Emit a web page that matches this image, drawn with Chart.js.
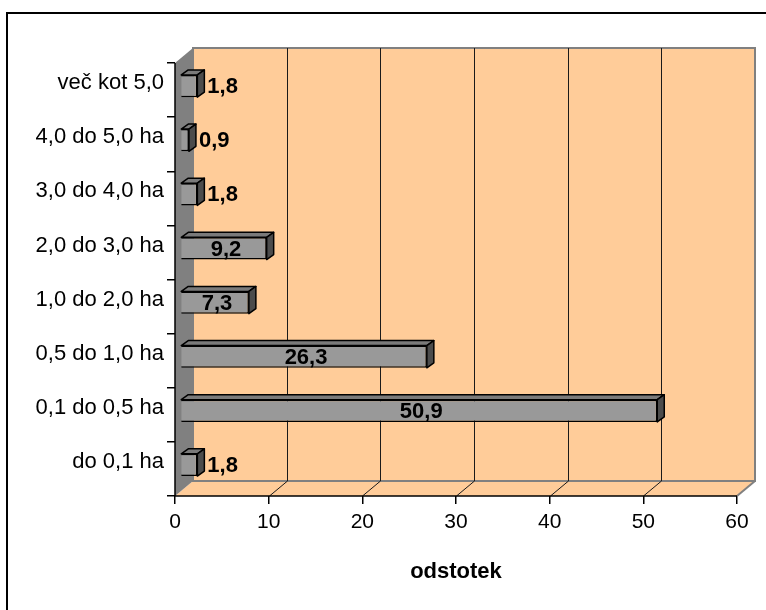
<!DOCTYPE html>
<html>
<head>
<meta charset="utf-8">
<script src="https://cdn.jsdelivr.net/npm/chart.js@4/dist/chart.umd.min.js"></script>
<style>
  html, body { margin: 0; padding: 0; background: #fff; }
  #wrap { position: relative; width: 766px; height: 610px; }
</style>
</head>
<body>
<div id="wrap"><canvas id="c" width="766" height="610"></canvas></div>
<script>
// Share of holdings by size class (percent)
const categories = ['več kot 5,0', '4,0 do 5,0 ha', '3,0 do 4,0 ha', '2,0 do 3,0 ha',
                    '1,0 do 2,0 ha', '0,5 do 1,0 ha', '0,1 do 0,5 ha', 'do 0,1 ha'];
const shares = [1.8, 0.9, 1.8, 9.2, 7.3, 26.3, 50.9, 1.8];
const xTicks = [0, 10, 20, 30, 40, 50, 60];
const axisTitle = 'odstotek';

const FONT = "'Liberation Sans', Arial, sans-serif";
const WALL = '#FFCC99';
const GREY = '#808080';
// depth of the plot box and of each bar
const DX = 18, DY = -15;
const BAR_SHIFT_X = 5.5, BAR_SHIFT_Y = -4;
const BDX = 7, BDY = -5;

const box3d = {
  id: 'box3d',
  beforeDatasetsDraw(chart) {
    const { ctx, chartArea: a, scales: { x } } = chart;
    ctx.save();
    // floor
    ctx.fillStyle = WALL;
    ctx.beginPath();
    ctx.moveTo(a.left, a.bottom);
    ctx.lineTo(a.left + DX, a.bottom + DY);
    ctx.lineTo(a.right + DX, a.bottom + DY);
    ctx.lineTo(a.right, a.bottom);
    ctx.closePath();
    ctx.fill();
    ctx.strokeStyle = GREY; ctx.lineWidth = 2;
    ctx.beginPath();
    ctx.moveTo(a.right + DX, a.bottom + DY);
    ctx.lineTo(a.right, a.bottom);
    ctx.stroke();
    // back wall
    ctx.fillStyle = WALL;
    ctx.fillRect(a.left + DX, a.top + DY, a.right - a.left, a.bottom - a.top);
    ctx.strokeStyle = GREY; ctx.lineWidth = 2;
    ctx.strokeRect(a.left + DX, a.top + DY, a.right - a.left, a.bottom - a.top);
    // grid lines on wall and floor
    ctx.strokeStyle = '#1a1a1a'; ctx.lineWidth = 1;
    xTicks.forEach(v => {
      if (v === xTicks[0] || v === xTicks[xTicks.length - 1]) return;
      const px = Math.round(x.getPixelForValue(v)) + 0.5;
      ctx.beginPath();
      ctx.moveTo(px + DX, a.top + DY);
      ctx.lineTo(px + DX, a.bottom + DY);
      ctx.lineTo(px, a.bottom);
      ctx.stroke();
    });
    // side wall
    ctx.fillStyle = GREY;
    ctx.beginPath();
    ctx.moveTo(a.left, a.top);
    ctx.lineTo(a.left + DX, a.top + DY);
    ctx.lineTo(a.left + DX, a.bottom + DY);
    ctx.lineTo(a.left, a.bottom);
    ctx.closePath();
    ctx.fill();
    // front axis lines
    ctx.strokeStyle = '#000'; ctx.lineWidth = 1.5;
    ctx.beginPath();
    ctx.moveTo(a.left, a.top);
    ctx.lineTo(a.left, a.bottom);
    ctx.lineTo(a.right, a.bottom);
    ctx.stroke();
    ctx.restore();

    // bars sit a little behind the front plane
    ctx.save();
    ctx.translate(BAR_SHIFT_X, BAR_SHIFT_Y);
  },
  afterDatasetsDraw(chart) {
    const { ctx } = chart;
    const meta = chart.getDatasetMeta(0);
    meta.data.forEach((bar, i) => {
      const p = bar.getProps(['x', 'y', 'base', 'height'], true);
      const t = p.y - p.height / 2, b = p.y + p.height / 2;
      ctx.lineWidth = 1.5; ctx.strokeStyle = '#000'; ctx.lineJoin = 'round';
      // top face
      ctx.fillStyle = '#7a7a7a';
      ctx.beginPath();
      ctx.moveTo(p.base, t); ctx.lineTo(p.base + BDX, t + BDY);
      ctx.lineTo(p.x + BDX, t + BDY); ctx.lineTo(p.x, t); ctx.closePath();
      ctx.fill(); ctx.stroke();
      // end face
      ctx.fillStyle = '#4c4c4c';
      ctx.beginPath();
      ctx.moveTo(p.x, t); ctx.lineTo(p.x + BDX, t + BDY);
      ctx.lineTo(p.x + BDX, b + BDY); ctx.lineTo(p.x, b); ctx.closePath();
      ctx.fill(); ctx.stroke();
      // value label
      const v = shares[i];
      const txt = v.toFixed(1).replace('.', ',');
      ctx.fillStyle = '#000';
      ctx.font = 'bold 22px ' + FONT;
      ctx.textBaseline = 'middle';
      if (p.x - p.base < 40) {
        ctx.textAlign = 'left';
        ctx.fillText(txt, p.x + BDX + 3, p.y + 1);
      } else {
        ctx.textAlign = 'center';
        ctx.fillText(txt, (p.x + p.base) / 2 + 2, p.y + 1);
      }
    });
    ctx.restore();
  },
  beforeDraw(chart) {
    const { ctx } = chart;
    ctx.save();
    ctx.fillStyle = '#fff';
    ctx.fillRect(0, 0, chart.width, chart.height);
    ctx.strokeStyle = '#000'; ctx.lineWidth = 2;
    ctx.strokeRect(7, 13, 820, 700);
    ctx.restore();
  }
};

new Chart(document.getElementById('c'), {
  type: 'bar',
  data: {
    labels: categories,
    datasets: [{
      data: shares,
      backgroundColor: '#999999',
      borderColor: '#000',
      borderWidth: 1.5,
      categoryPercentage: 1,
      barPercentage: 0.41,
      clip: false
    }]
  },
  options: {
    indexAxis: 'y',
    responsive: false,
    animation: false,
    events: [],
    layout: { padding: { top: 63, right: 29, left: 0, bottom: 0 } },
    plugins: { legend: { display: false }, tooltip: { enabled: false } },
    scales: {
      x: {
        type: 'linear', min: 0, max: 60,
        afterFit(s) { s.height = 114; },
        afterBuildTicks(s) { s.ticks = xTicks.map(v => ({ value: v })); },
        border: { display: false },
        grid: { drawOnChartArea: false, drawTicks: true, tickLength: 8, color: '#000', lineWidth: 1.5 },
        ticks: { color: '#000', padding: 6, font: { family: FONT, size: 21 } },
        title: { display: true, text: axisTitle, color: '#000', padding: { bottom: 25 },
                 font: { family: FONT, size: 22, weight: 'bold' } }
      },
      y: {
        afterFit(s) { s.width = 175; },
        border: { display: false },
        grid: { drawOnChartArea: false, drawTicks: true, tickLength: 8, color: '#000', lineWidth: 1.5 },
        ticks: { color: '#000', padding: 3, labelOffset: -7, font: { family: FONT, size: 22 } }
      }
    }
  },
  plugins: [box3d]
});
</script>
</body>
</html>
